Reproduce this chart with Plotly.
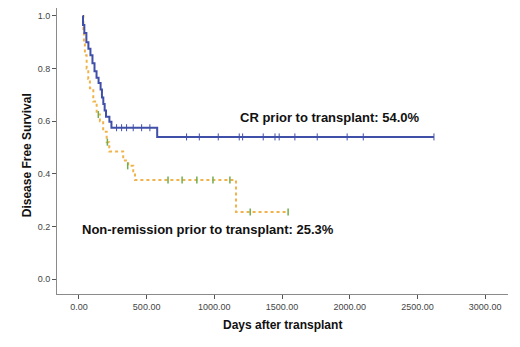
import plotly.graph_objects as go

# CR prior to transplant (step curve)
cr_days = [27, 30, 40, 55, 70, 85, 100, 115, 130, 145, 160, 170, 180, 190, 200, 225, 240, 578, 2622]
cr_surv = [1.0, 0.965, 0.935, 0.90, 0.875, 0.85, 0.82, 0.79, 0.765, 0.745, 0.72, 0.69, 0.665, 0.64, 0.617, 0.598, 0.575, 0.540, 0.540]
cr_cens_days = [278, 315, 352, 401, 463, 524, 795, 889, 1029, 1184, 1209, 1361, 1448, 1479, 1595, 1760, 1981, 2100, 2622]
cr_cens_surv = [0.575, 0.575, 0.575, 0.575, 0.575, 0.575, 0.540, 0.540, 0.540, 0.540, 0.540, 0.540, 0.540, 0.540, 0.540, 0.540, 0.540, 0.540, 0.540]

# Non-remission prior to transplant
nr_days = [27, 33, 37, 44, 57, 69, 81, 106, 131, 155, 179, 205, 224, 327, 364, 401, 414, 1160, 1550]
nr_surv = [1.0, 0.95, 0.90, 0.85, 0.80, 0.76, 0.725, 0.675, 0.625, 0.60, 0.56, 0.52, 0.485, 0.45, 0.43, 0.405, 0.376, 0.255, 0.255]
nr_cens_days = [143, 210, 360, 658, 762, 871, 990, 1115, 1265, 1545]
nr_cens_surv = [0.625, 0.52, 0.43, 0.376, 0.376, 0.376, 0.376, 0.376, 0.255, 0.255]

x_ticks = [0, 500, 1000, 1500, 2000, 2500, 3000]
y_ticks = [0.0, 0.2, 0.4, 0.6, 0.8, 1.0]

blue = "#4050A8"
orange = "#F2B24A"
green = "#6FAE4E"
FONT = "Arial, Liberation Sans, sans-serif"

fig = go.Figure()
fig.add_trace(go.Scatter(x=nr_days, y=nr_surv, mode="lines", line=dict(shape="hv", color=orange, width=2, dash="3px,3px"), hoverinfo="skip"))
fig.add_trace(go.Scatter(x=nr_cens_days, y=nr_cens_surv, mode="markers", marker=dict(symbol="line-ns", size=5, line=dict(color=green, width=1.5)), hoverinfo="skip"))
fig.add_trace(go.Scatter(x=cr_days, y=cr_surv, mode="lines", line=dict(shape="hv", color=blue, width=2), hoverinfo="skip"))
fig.add_trace(go.Scatter(x=cr_cens_days, y=cr_cens_surv, mode="markers", marker=dict(symbol="line-ns", size=5, line=dict(color=blue, width=1)), hoverinfo="skip"))

fig.add_annotation(x=1175, y=0.615, text="<b>CR prior to transplant: 54.0%</b>", showarrow=False, xanchor="left", yanchor="middle",
                   font=dict(family=FONT, size=13, color="#111"))
fig.add_annotation(x=10, y=0.19, text="<b>Non-remission prior to transplant: 25.3%</b>", showarrow=False, xanchor="left", yanchor="middle",
                   font=dict(family=FONT, size=13, color="#111"))

# axis titles
fig.add_annotation(xref="paper", yref="paper", x=0.499, y=0, yshift=-31, text="<b>Days after transplant</b>", showarrow=False,
                   xanchor="center", yanchor="middle", font=dict(family=FONT, size=12, color="#111"))
fig.add_annotation(xref="paper", yref="paper", x=0, xshift=-30, y=0.485, text="<b>Disease Free Survival</b>", showarrow=False,
                   textangle=-90, xanchor="center", yanchor="middle", font=dict(family=FONT, size=12, color="#111"))

# page body has an 8px default margin, so the plot box is placed 8px up/left to compensate
fig.update_layout(
    width=520, height=347,
    margin=dict(l=49, r=20, t=0, b=61),
    paper_bgcolor="white", plot_bgcolor="white",
    showlegend=False,
    font=dict(family=FONT),
)
fig.update_xaxes(range=[-162, 3169], tickvals=x_ticks, tickformat=".2f", automargin=False,
                 showgrid=False, zeroline=False, showline=True, linecolor="#8a8a8a", linewidth=1,
                 ticks="outside", ticklen=4, tickcolor="#555",
                 tickfont=dict(size=9, color="#444"))
fig.update_yaxes(range=[-0.057, 1.030], tickvals=y_ticks, tickformat=".1f", automargin=False,
                 showgrid=False, zeroline=False, showline=True, linecolor="#8a8a8a", linewidth=1,
                 ticks="outside", ticklen=4, tickcolor="#555",
                 tickfont=dict(size=9, color="#444"))

fig.write_html("out.html")
